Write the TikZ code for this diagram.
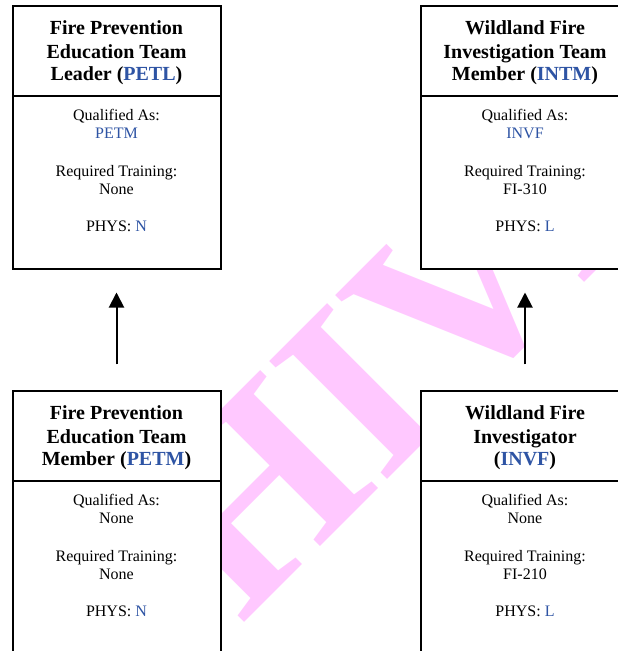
\documentclass[tikz,border=0pt]{standalone}
\usepackage{fontspec}
\setmainfont{Liberation Serif}
\usetikzlibrary{arrows.meta}
\definecolor{codeblue}{RGB}{46,84,164}
\definecolor{wmpink}{RGB}{255,200,255}
\newcommand\cardtext[7]{%
  \node[hline] (#1-h1) at ([yshift=-21.5pt]#1.north) {#2};
  \node[hline] (#1-h2) at ([yshift=-38.8pt]#1.north) {#3};
  \node[hline] (#1-h3) at ([yshift=-56.0pt]#1.north) {#4};
  \draw[divider] ([yshift=-67.05pt]#1.north west) -- ([yshift=-67.05pt]#1.north east);
  \node[bline] (#1-b1) at ([yshift=-85.65pt]#1.north) {Qualified As:};
  \node[bline] (#1-b2) at ([yshift=-99.5pt]#1.north) {#5};
  \node[bline] (#1-b3) at ([yshift=-127.3pt]#1.north) {Required Training:};
  \node[bline] (#1-b4) at ([yshift=-141.15pt]#1.north) {#6};
  \node[bline] (#1-b5) at ([yshift=-168.9pt]#1.north) {PHYS: \textcolor{codeblue}{#7}};
}
\begin{document}
\begin{tikzpicture}[x=0.75pt,y=-0.75pt,
  card/.style={draw=black,line width=1.5pt,fill=white,minimum width=156pt,minimum height=197.25pt,inner sep=0pt,outer sep=0pt,anchor=north west},
  divider/.style={draw=black,line width=1.5pt},
  hline/.style={font=\fontsize{15pt}{17.25pt}\selectfont\bfseries,anchor=base,inner sep=0pt},
  bline/.style={font=\fontsize{12pt}{13.875pt}\selectfont,anchor=base,inner sep=0pt},
  link/.style={-{Triangle[length=11.25pt,width=11.25pt]},line width=1.5pt,shorten <=20.25pt,shorten >=17.4pt},
  watermark/.style={anchor=base west,rotate=45,inner sep=0pt,text=wmpink,font=\fontsize{191pt}{191pt}\selectfont\bfseries}
]
\useasboundingbox (0,0) rectangle (618,651);
\clip (0,0) rectangle (618,651);
\node[watermark] (wm) at (-149.1,1016.1) {ARCHIVED};

\node[card] (petl) at (12.5,6.3) {};
\node[card] (intm) at (421,6.3) {};
\node[card] (petm) at (12.5,391.3) {};
\node[card] (invf) at (421,391.3) {};

\cardtext{petl}{Fire Prevention}{Education Team}{Leader (\textcolor{codeblue}{PETL})}{\textcolor{codeblue}{PETM}}{None}{N}
\cardtext{intm}{Wildland Fire}{Investigation Team}{Member (\textcolor{codeblue}{INTM})}{\textcolor{codeblue}{INVF}}{FI-310}{L}
\cardtext{petm}{Fire Prevention}{Education Team}{Member (\textcolor{codeblue}{PETM})}{None}{None}{N}
\cardtext{invf}{Wildland Fire}{Investigator}{(\textcolor{codeblue}{INVF})}{None}{FI-210}{L}

\draw[link] (petm.north) -- (petl.south);
\draw[link] (invf.north) -- (intm.south);
\end{tikzpicture}
\end{document}
